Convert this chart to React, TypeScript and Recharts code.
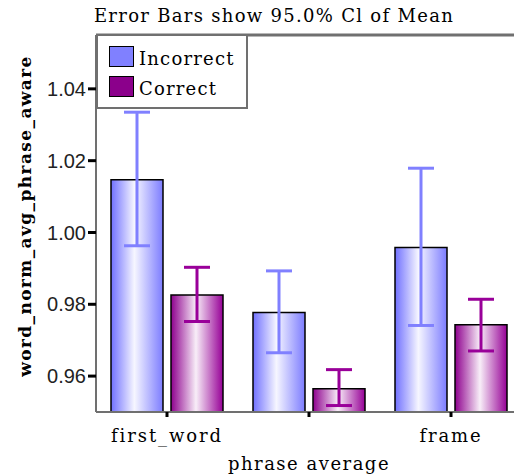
import { Bar, BarChart, ErrorBar, Legend, ReferenceLine, XAxis, YAxis } from 'recharts'

const categories = ['first_word', 'phrase average', 'frame']
const tickLabels = ['first_word', '', 'frame']
const incorrectMean = [1.0147, 0.9777, 0.9958]
const incorrectLow = [0.9963, 0.9665, 0.9741]
const incorrectHigh = [1.0335, 0.9893, 1.0179]
const correctMean = [0.9826, 0.9565, 0.9743]
const correctLow = [0.9752, 0.9518, 0.967]
const correctHigh = [0.9903, 0.9618, 0.9814]
const yTicks = [0.96, 0.98, 1.0, 1.02, 1.04]

const series = [
  { key: 'Incorrect', swatch: '#8080ff', err: '#8080ff', grad: 'gIncorrect' },
  { key: 'Correct', swatch: '#8b008b', err: '#990099', grad: 'gCorrect' },
]

const data = categories.map((c, i) => ({
  name: c,
  Incorrect: incorrectMean[i],
  IncorrectErr: [incorrectMean[i] - incorrectLow[i], incorrectHigh[i] - incorrectMean[i]],
  Correct: correctMean[i],
  CorrectErr: [correctMean[i] - correctLow[i], correctHigh[i] - correctMean[i]],
}))

const serif = '"DejaVu Serif", serif'
const axisGray = '#707070'

function LegendBox() {
  return (
    <div
      style={{
        width: 148,
        height: 71,
        border: `2px solid ${axisGray}`,
        background: '#fff',
        position: 'relative',
        fontFamily: serif,
        fontSize: 18,
        letterSpacing: 1.2,
        color: '#000',
      }}
    >
      {series.map((s, i) => (
        <div key={s.key} style={{ position: 'absolute', left: 11, top: 10 + i * 30, display: 'flex', alignItems: 'center' }}>
          <div style={{ width: 23, height: 19, background: s.swatch, border: '1.5px solid #000' }} />
          <span style={{ marginLeft: 5, lineHeight: '20px', position: 'relative', top: 2 }}>{s.key}</span>
        </div>
      ))}
    </div>
  )
}

export default function App() {
  return (
    <div style={{ position: 'absolute', left: 0, top: 0, width: 514, height: 476, overflow: 'hidden', background: '#fff' }}>
      <BarChart
        width={522}
        height={476}
        data={data}
        margin={{ top: 35, right: 0, bottom: 0, left: 0 }}
        barCategoryGap={15}
        barGap={8}
      >
        <defs>
          <linearGradient id="gIncorrect" x1="0" y1="0" x2="1" y2="0">
            <stop offset="0%" stopColor="#7070ff" />
            <stop offset="45%" stopColor="#f6f6ff" />
            <stop offset="100%" stopColor="#7c7cff" />
          </linearGradient>
          <linearGradient id="gCorrect" x1="0" y1="0" x2="1" y2="0">
            <stop offset="0%" stopColor="#8e008e" />
            <stop offset="48%" stopColor="#f8eef8" />
            <stop offset="100%" stopColor="#960096" />
          </linearGradient>
        </defs>
        <text x={274} y={22} textAnchor="middle" fontFamily={serif} fontSize={18} letterSpacing={1.3} fill="#000">
          Error Bars show 95.0% Cl of Mean
        </text>
        <text
          x={0}
          y={0}
          transform="translate(31, 216) rotate(-90)"
          textAnchor="middle"
          fontFamily={serif}
          fontWeight="bold"
          fontSize={17}
          letterSpacing={1.4}
          fill="#000"
        >
          word_norm_avg_phrase_aware
        </text>
        <XAxis
          dataKey="name"
          height={64}
          padding={{ left: 0, right: 0 }}
          stroke={axisGray}
          strokeWidth={2}
          tickLine={{ stroke: '#000', strokeWidth: 3 }}
          tickSize={5}
          tickMargin={12}
          tickFormatter={(_v: string, i: number) => tickLabels[i]}
          tick={{ fill: '#000', fontFamily: serif, fontSize: 18, letterSpacing: 1.9 }}
          label={{ value: 'phrase average', position: 'insideBottom', offset: 6, fill: '#000', fontFamily: serif, fontSize: 18, letterSpacing: 1.5 }}
        />
        <YAxis
          width={96}
          domain={[0.95, 1.055]}
          allowDataOverflow
          ticks={yTicks}
          tickFormatter={(v: number) => v.toFixed(2)}
          stroke={axisGray}
          strokeWidth={2}
          tickLine={{ stroke: '#000', strokeWidth: 3 }}
          tickSize={8}
          tick={{ fill: '#222', fontFamily: '"Liberation Sans", Arial, sans-serif', fontSize: 20 }}
        />
        <ReferenceLine y={1.055} stroke={axisGray} strokeWidth={3} ifOverflow="visible" />
        <Legend
          layout="horizontal"
          verticalAlign="middle"
          align="center"
          wrapperStyle={{ left: 96, top: 34, width: 'auto' }}
          content={() => <LegendBox />}
        />
        {series.map((s) => (
          <Bar
            key={s.key}
            dataKey={s.key}
            fill={`url(#${s.grad})`}
            stroke="#000"
            strokeWidth={1.5}
            isAnimationActive={false}
          >
            <ErrorBar dataKey={`${s.key}Err`} width={13} stroke={s.err} strokeWidth={3} />
          </Bar>
        ))}
      </BarChart>
    </div>
  )
}
